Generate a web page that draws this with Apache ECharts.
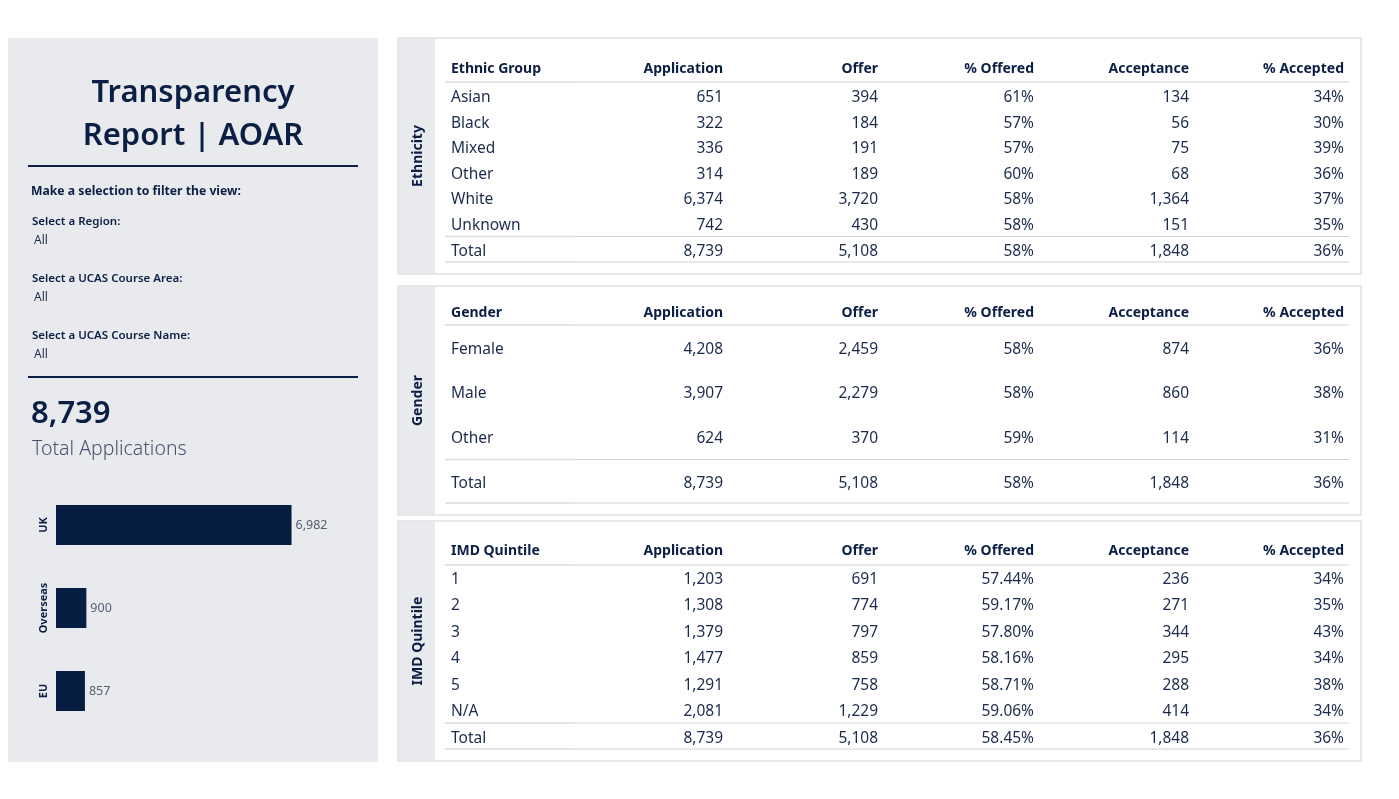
<!DOCTYPE html>
<html>
<head>
<meta charset="utf-8">
<title>Transparency Report | AOAR</title>
<script src="https://cdn.jsdelivr.net/npm/echarts@6.0.0/dist/echarts.min.js"></script>
<style>
  html, body { margin: 0; padding: 0; background: #ffffff; }
  #main { width: 1399px; height: 799px; }
</style>
</head>
<body>
<div id="main"></div>
<script>
// ---- data ----
var regionNames = ['UK', 'Overseas', 'EU'];
var regionApplications = [6982, 900, 857];
var totalApplications = 8739;

var filterLabels = ['Select a Region:', 'Select a UCAS Course Area:', 'Select a UCAS Course Name:'];
var filterValues = ['All', 'All', 'All'];

var measureHeaders = ['Application', 'Offer', '% Offered', 'Acceptance', '% Accepted'];

var ethnicGroups = ['Asian', 'Black', 'Mixed', 'Other', 'White', 'Unknown', 'Total'];
var ethnicApplication = [651, 322, 336, 314, 6374, 742, 8739];
var ethnicOffer = [394, 184, 191, 189, 3720, 430, 5108];
var ethnicPctOffered = ['61%', '57%', '57%', '60%', '58%', '58%', '58%'];
var ethnicAcceptance = [134, 56, 75, 68, 1364, 151, 1848];
var ethnicPctAccepted = ['34%', '30%', '39%', '36%', '37%', '35%', '36%'];

var genders = ['Female', 'Male', 'Other', 'Total'];
var genderApplication = [4208, 3907, 624, 8739];
var genderOffer = [2459, 2279, 370, 5108];
var genderPctOffered = ['58%', '58%', '59%', '58%'];
var genderAcceptance = [874, 860, 114, 1848];
var genderPctAccepted = ['36%', '38%', '31%', '36%'];

var imdQuintiles = ['1', '2', '3', '4', '5', 'N/A', 'Total'];
var imdApplication = [1203, 1308, 1379, 1477, 1291, 2081, 8739];
var imdOffer = [691, 774, 797, 859, 758, 1229, 5108];
var imdPctOffered = ['57.44%', '59.17%', '57.80%', '58.16%', '58.71%', '59.06%', '58.45%'];
var imdAcceptance = [236, 271, 344, 295, 288, 414, 1848];
var imdPctAccepted = ['34%', '35%', '43%', '34%', '38%', '34%', '36%'];

// ---- styles ----
var FONT = '"Noto Sans", "Open Sans", sans-serif';
var NAVY = '#0b1f45';
var TEXT = '#1c2b4d';
var PANEL_GREY = '#e9eaee';
var TEXT_DY = 1.5; // middle-aligned text sits a touch high otherwise
var fmt = function (v) { return typeof v === 'number' ? v.toLocaleString('en-US') : v; };

var graphics = [];

function text(x, y, str, opt) {
  opt = opt || {};
  graphics.push({
    type: 'text', x: opt.rotation ? x + TEXT_DY : x, y: opt.rotation ? y : y + TEXT_DY,
    rotation: opt.rotation || 0, silent: true,
    style: {
      text: str, fill: opt.color || TEXT,
      font: (opt.weight || 'normal') + ' ' + (opt.size || 15) + 'px ' + FONT,
      textAlign: opt.align || 'left', textVerticalAlign: 'middle'
    }
  });
}
function hline(x1, x2, y, color, w) {
  graphics.push({
    type: 'line', silent: true,
    shape: { x1: x1, y1: y, x2: x2, y2: y },
    style: { stroke: color, lineWidth: w }
  });
}
function rect(x, y, w, h, fill, stroke) {
  graphics.push({
    type: 'rect', silent: true,
    shape: { x: x, y: y, width: w, height: h },
    style: { fill: fill, stroke: stroke || null, lineWidth: stroke ? 2 : 0 }
  });
}

// left panel
rect(8, 38, 370, 724, PANEL_GREY);
text(193, 92, 'Transparency', { size: 31, weight: 600, align: 'center', color: NAVY });
text(193, 135, 'Report | AOAR', { size: 31, weight: 600, align: 'center', color: NAVY });
hline(28, 358, 166, NAVY, 2);
text(31, 190, 'Make a selection to filter the view:', { size: 12.2, weight: 'bold', color: NAVY });
filterLabels.forEach(function (lab, i) {
  text(32, 220 + i * 57, lab, { size: 11.5, weight: 600, color: NAVY });
  text(34, 239 + i * 57, filterValues[i], { size: 12, color: TEXT });
});
hline(28, 358, 377, NAVY, 2);
text(31, 413, fmt(totalApplications), { size: 31, weight: 600, color: NAVY });
text(32, 448, 'Total Applications', { size: 19.5, weight: 300, color: '#46526f' });

// tables
var colRight = [723, 878, 1034, 1189, 1344];
function table(panel) {
  rect(398, panel.top, 963, panel.height, '#ffffff', '#e6e7eb');
  rect(399, panel.top + 1, 36, panel.height - 2, PANEL_GREY);
  text(417, panel.top + panel.height / 2, panel.title,
    { size: 14, weight: 'bold', align: 'center', color: NAVY, rotation: Math.PI / 2 });
  text(451, panel.headerY, panel.dimName, { size: 14, weight: 'bold', color: NAVY });
  measureHeaders.forEach(function (h, c) {
    text(colRight[c], panel.headerY, h, { size: 14, weight: 'bold', color: NAVY, align: 'right' });
  });
  var n = panel.rows.length;
  panel.rows.forEach(function (r, i) {
    var y = i === n - 1 ? panel.totalY : panel.firstY + i * panel.step;
    text(451, y, r, { size: 15.5 });
    panel.cols.forEach(function (col, c) {
      text(colRight[c], y, fmt(col[i]), { size: 15.5, align: 'right' });
    });
  });
  [panel.lineHeader, panel.lineTotal, panel.lineBottom].forEach(function (y) {
    hline(445, 573, y, '#e4e4e4', 2);
    hline(573, 1349, y, '#d2d2d2', 1);
  });
}

table({
  title: 'Ethnicity', dimName: 'Ethnic Group', top: 38, height: 236,
  headerY: 68, firstY: 96, step: 25.6, totalY: 250,
  lineHeader: 82, lineTotal: 236.5, lineBottom: 262,
  rows: ethnicGroups,
  cols: [ethnicApplication, ethnicOffer, ethnicPctOffered, ethnicAcceptance, ethnicPctAccepted]
});
table({
  title: 'Gender', dimName: 'Gender', top: 286, height: 229,
  headerY: 312, firstY: 348, step: 44.5, totalY: 482,
  lineHeader: 325, lineTotal: 459.5, lineBottom: 503,
  rows: genders,
  cols: [genderApplication, genderOffer, genderPctOffered, genderAcceptance, genderPctAccepted]
});
table({
  title: 'IMD Quintile', dimName: 'IMD Quintile', top: 521, height: 240,
  headerY: 550, firstY: 578, step: 26.4, totalY: 737,
  lineHeader: 565, lineTotal: 723, lineBottom: 749,
  rows: imdQuintiles,
  cols: [imdApplication, imdOffer, imdPctOffered, imdAcceptance, imdPctAccepted]
});

var chart = echarts.init(document.getElementById('main'), null, { renderer: 'canvas' });
chart.setOption({
  animation: false,
  backgroundColor: '#ffffff',
  textStyle: { fontFamily: FONT },
  graphic: { elements: graphics },
  grid: { left: 56, top: 483.5, width: 280, height: 249 },
  xAxis: {
    type: 'value', min: 0, max: 8300, show: false
  },
  yAxis: {
    type: 'category', data: regionNames, inverse: true,
    axisLine: { show: false }, axisTick: { show: false },
    axisLabel: {
      rotate: 90, margin: 7, color: NAVY, fontSize: 11, fontWeight: 'bold', fontFamily: FONT
    }
  },
  series: [{
    type: 'bar', data: regionApplications, barWidth: 40,
    itemStyle: { color: '#061e41' },
    label: {
      show: true, position: 'right', distance: 4, color: '#555e70',
      fontSize: 12.5, fontFamily: FONT, formatter: function (p) { return fmt(p.value); }
    }
  }]
});
</script>
</body>
</html>
